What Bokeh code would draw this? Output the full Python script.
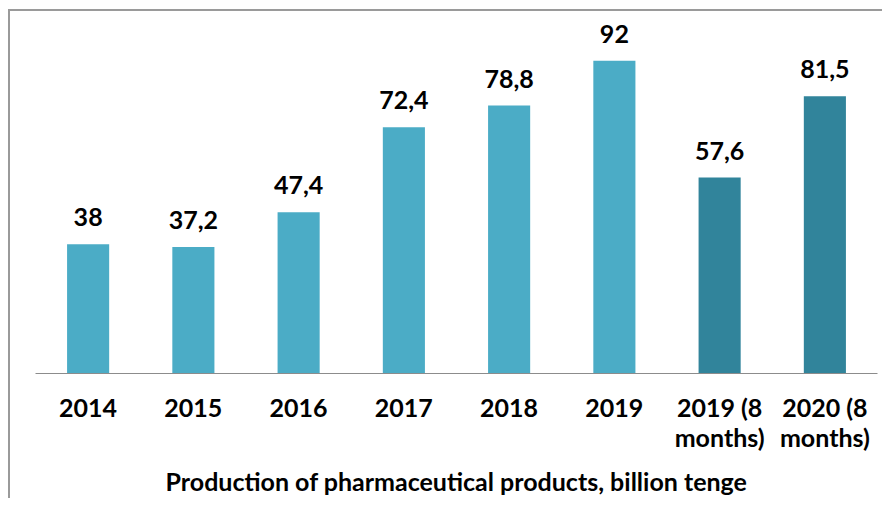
from bokeh.plotting import figure
from bokeh.models import ColumnDataSource, Range1d
from bokeh.core.properties import value
from bokeh.embed import file_html
from bokeh.resources import INLINE

categories = ["2014", "2015", "2016", "2017", "2018", "2019", "2019 (8\nmonths)", "2020 (8\nmonths)"]
values = [38, 37.2, 47.4, 72.4, 78.8, 92, 57.6, 81.5]
bar_colors = ["#4BACC6"] * 6 + ["#31849B"] * 2
label_texts = [("%g" % v).replace(".", ",") for v in values]
x_title = "Production of pharmaceutical products, billion tenge"

FONT = "Lato"
W, H = 882, 498

src = ColumnDataSource(dict(cat=categories, val=values, color=bar_colors, lab=label_texts))

p = figure(x_range=categories, y_range=Range1d(0, 108.8), width=W, height=H,
           output_backend="svg", toolbar_location=None, y_axis_location=None,
           min_border_left=35, min_border_right=5, min_border_top=3, min_border_bottom=124)
# outer chart border (top and left edges), drawn behind transparent canvas fills
p.border_fill_alpha = 0
p.background_fill_alpha = 0
p.styles = {
    "background": "linear-gradient(#9a9a9a, #9a9a9a) 8px 9px / 2px 100% no-repeat, "
                  "linear-gradient(#9a9a9a, #9a9a9a) 8px 9px / 100% 2px no-repeat, #ffffff",
}
p.outline_line_color = None
p.xgrid.grid_line_color = None
p.ygrid.grid_line_color = None
p.x_range.range_padding = 0

p.vbar(x="cat", top="val", width=0.4, color="color", line_color=None, source=src)
p.text(x="cat", y="val", text="lab", source=src, text_align="center", text_baseline="middle",
       y_offset=-27, text_font=value(FONT), text_font_size="25px", text_font_style="bold",
       text_color="#000000")

ax = p.xaxis[0]
ax.axis_line_color = "#8c8c8c"
ax.axis_line_width = 1
ax.major_tick_line_color = None
ax.minor_tick_line_color = None
ax.major_tick_out = 0
ax.major_tick_in = 0
ax.major_label_standoff = 18
ax.major_label_text_font = FONT
ax.major_label_text_font_size = "25px"
ax.major_label_text_font_style = "bold"
ax.major_label_text_line_height = 1.0
ax.major_label_text_color = "#000000"
ax.axis_label = x_title
ax.axis_label_text_font = FONT
ax.axis_label_text_font_size = "25px"
ax.axis_label_text_font_style = "bold"
ax.axis_label_text_color = "#000000"
ax.axis_label_standoff = 11

open("out.html", "w").write(file_html(p, INLINE))
